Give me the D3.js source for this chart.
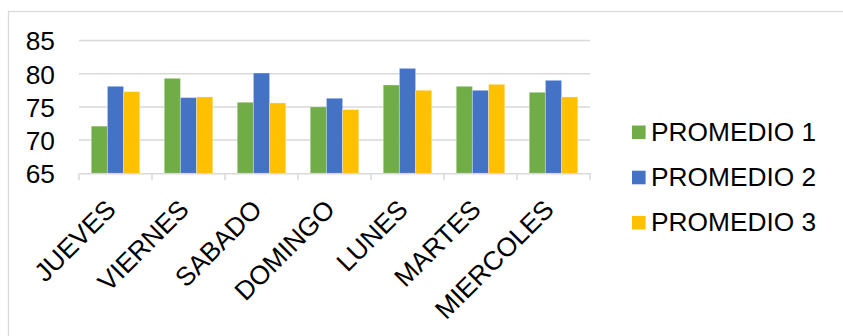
<!DOCTYPE html>
<html><head><meta charset="utf-8">
<script src="https://cdn.jsdelivr.net/npm/d3@7"></script>
<style>html,body{margin:0;padding:0;background:#fff;}svg{display:block;}</style>
</head><body>
<svg id="chart" width="843" height="336"></svg>
<script>
const categories = ["JUEVES","VIERNES","SABADO","DOMINGO","LUNES","MARTES","MIERCOLES"];
const seriesNames = ["PROMEDIO 1","PROMEDIO 2","PROMEDIO 3"];
const promedio1 = [72.1, 79.3, 75.7, 75.0, 78.3, 78.1, 77.2];
const promedio2 = [78.1, 76.4, 80.1, 76.3, 80.8, 77.5, 79.0];
const promedio3 = [77.3, 76.5, 75.6, 74.6, 77.5, 78.4, 76.5];
const yTicks = [65, 70, 75, 80, 85];
const colors = ["#70ad47", "#4472c4", "#ffc000"];

const seriesValues = [promedio1, promedio2, promedio3];
const svg = d3.select("#chart");
const font = "'Liberation Sans', Arial, sans-serif";

// chart border (only top/left visible)
svg.append("rect").attr("x", 8.5).attr("y", 11.5).attr("width", 900).attr("height", 400)
  .attr("fill", "none").attr("stroke", "#d9d9d9").attr("stroke-width", 1.3);

const plot = {left: 79, right: 590, top: 40.5, bottom: 173.3};
const x0 = d3.scaleBand().domain(categories).range([plot.left, plot.right]).padding(0);
const bw = x0.bandwidth();
const x1 = d3.scaleBand().domain(seriesNames).range([bw * 0.168, bw * 0.832]).padding(0);
const y = d3.scaleLinear().domain([65, 85]).range([plot.bottom, plot.top]);

// gridlines
svg.append("g").selectAll("line").data(yTicks.filter(t => t !== 65)).join("line")
  .attr("x1", plot.left).attr("x2", plot.right)
  .attr("y1", d => y(d)).attr("y2", d => y(d))
  .attr("stroke", "#d9d9d9").attr("stroke-width", 1.5);

// bars
const groups = svg.append("g").selectAll("g").data(categories).join("g")
  .attr("transform", d => `translate(${x0(d)},0)`);
groups.selectAll("rect").data((d, i) => seriesNames.map((s, j) => ({s, j, v: seriesValues[j][i]}))).join("rect")
  .attr("x", d => x1(d.s)).attr("width", x1.bandwidth())
  .attr("y", d => y(d.v)).attr("height", d => y(65) - y(d.v))
  .attr("fill", d => colors[d.j])
  .attr("stroke", "rgba(255,255,255,0.3)").attr("stroke-width", 1);

// x axis
const xAxis = d3.axisBottom(x0).tickSize(0).tickFormat("");
const xg = svg.append("g").attr("transform", `translate(0,${plot.bottom})`).call(xAxis);
xg.select(".domain").attr("stroke", "#d9d9d9").attr("stroke-width", 1.5);
const bounds = categories.map(c => x0(c)).concat([plot.right]);
xg.selectAll(".bt").data(bounds).join("line").attr("class", "bt")
  .attr("x1", d => d).attr("x2", d => d).attr("y1", 0).attr("y2", 7)
  .attr("stroke", "#d9d9d9").attr("stroke-width", 1.5);
svg.append("g").selectAll("text").data(categories).join("text")
  .attr("transform", d => `translate(${x0(d) + bw / 2 + 2},211) rotate(-45)`)
  .attr("text-anchor", "end")
  .attr("font-family", font).attr("font-size", 26.3).attr("fill", "#000")
  .text(d => d);

// y axis labels
const yAxis = d3.axisLeft(y).tickValues(yTicks).tickSize(0).tickPadding(0);
const yg = svg.append("g").attr("transform", `translate(55,0)`).call(yAxis);
yg.select(".domain").remove();
yg.selectAll("text").attr("font-family", font).attr("font-size", 26.3).attr("fill", "#000")
  .attr("dy", "0.36em");

// legend
const lg = svg.append("g").selectAll("g").data(seriesNames).join("g")
  .attr("transform", (d, i) => `translate(632,${132.3 + i * 45.2})`);
lg.append("rect").attr("x", 0).attr("y", -6.8).attr("width", 13.6).attr("height", 13.6)
  .attr("fill", (d, i) => colors[i]);
lg.append("text").attr("x", 19).attr("y", 8.6)
  .attr("font-family", font).attr("font-size", 26.3).attr("fill", "#000")
  .text(d => d);
</script>
</body></html>
